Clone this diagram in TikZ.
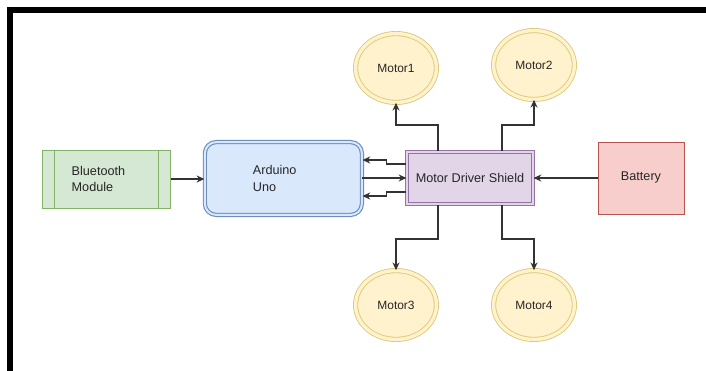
\documentclass[tikz,border=0pt]{standalone}
\usepackage{fontspec}
\setmainfont{Liberation Sans}
\usetikzlibrary{shapes.geometric,calc,arrows.meta}
\definecolor{btfill}{HTML}{D5E8D4}
\definecolor{btline}{HTML}{82B366}
\definecolor{ardfill}{HTML}{DAE8FC}
\definecolor{ardline}{HTML}{6C8EBF}
\definecolor{mdsfill}{HTML}{E1D5E7}
\definecolor{mdsline}{HTML}{9673A6}
\definecolor{batfill}{HTML}{F8CECC}
\definecolor{batline}{HTML}{B85450}
\definecolor{motfill}{HTML}{FFF2CC}
\definecolor{motline}{HTML}{DCC875}
\definecolor{wirecol}{HTML}{333333}
\tikzset{
  blk/.style={draw, line width=0.7pt, font=\fontsize{9}{12}\selectfont, text=black!85},
  dbl/.style={blk, line width=0.8pt, double distance=1.4pt},
  motor/.style={ellipse, draw=motline, fill=motfill, double=motfill, double distance=2.4pt,
    line width=0.6pt, minimum width=2.02cm, minimum height=1.72cm, inner sep=0pt,
    font=\fontsize{8.5}{10}\selectfont, text=black!85},
  wire/.style={draw=wirecol, line width=1pt, -{Stealth[length=5.5pt,width=5pt]}},
}
\begin{document}
\begin{tikzpicture}[x=0.025cm,y=-0.025cm]
  \useasboundingbox (0,0) rectangle (706,370);
  % marco
  \draw[line width=4.25pt] (10,372) -- (10,10) -- (708,10);
  % bloques principales
  \node[blk, draw=btline, fill=btfill, text width=1.75cm, inner xsep=0.725cm,
    minimum height=1.45cm, align=left] (bt) at (106.7,179) {Bluetooth\\Module};
  \draw[btline, line width=0.7pt] ([xshift=0.31cm]bt.north west) -- ([xshift=0.31cm]bt.south west);
  \draw[btline, line width=0.7pt] ([xshift=-0.31cm]bt.north east) -- ([xshift=-0.31cm]bt.south east);
  \node[dbl, draw=ardline, fill=ardfill, double=ardfill, rounded corners=8pt,
    text width=1.525cm, inner xsep=1.2cm, minimum height=1.82cm, align=left] (ard) at (283.4,178.5) {Arduino\\Uno};
  \node[dbl, draw=mdsline, fill=mdsfill, double=mdsfill, minimum width=3.15cm,
    minimum height=1.3cm] (mds) at (470,178) {Motor Driver Shield};
  \node[blk, draw=batline, fill=batfill, minimum width=2.15cm, minimum height=1.8cm] (bat) at (641,178) {\raisebox{3pt}{Battery}};
  % motores
  \node[motor] (m1) at (396,68) {Motor1};
  \node[motor] (m2) at (534,65) {Motor2};
  \node[motor] (m3) at (396,305) {Motor3};
  \node[motor] (m4) at (534,305) {Motor4};
  % conexiones
  \draw[wire] (bt.east) -- (bt.east -| ard.west);
  \draw[wire] (ard.east |- mds.west) -- (mds.west);
  \draw[wire] ($(mds.west)+(0,-14)$) -- ++(-20,0) |- ($(ard.east)+(0,-18.5)$);
  \draw[wire] ($(mds.west)+(0,14)$) -- ++(-20,0) |- ($(ard.east)+(0,17.5)$);
  \draw[wire] (bat.west) -- (bat.west -| mds.east);
  \draw[wire] ($(mds.north)+(-32,0)$) |- ($(m1.south)+(0,22)$) -- (m1.south);
  \draw[wire] ($(mds.north)+(32,0)$) |- ($(m2.south)+(0,25)$) -- (m2.south);
  \draw[wire] ($(mds.south)+(-32,0)$) |- ($(m3.north)+(0,-31)$) -- (m3.north);
  \draw[wire] ($(mds.south)+(32,0)$) |- ($(m4.north)+(0,-31)$) -- (m4.north);
\end{tikzpicture}
\end{document}
